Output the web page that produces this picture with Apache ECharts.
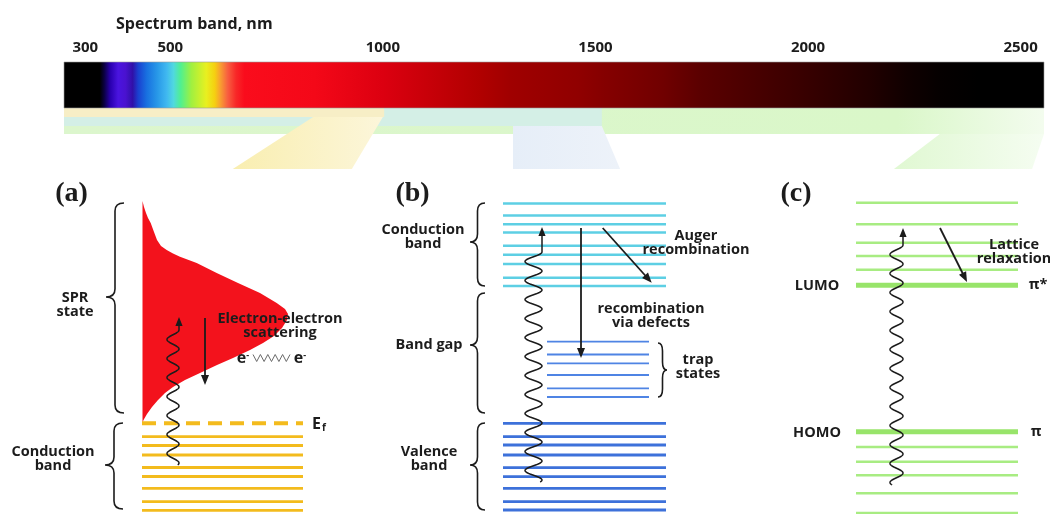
<!DOCTYPE html>
<html>
<head>
<meta charset="utf-8">
<script src="https://cdn.jsdelivr.net/npm/echarts@6/dist/echarts.min.js"></script>
<style>
  html, body { margin: 0; padding: 0; background: #fff; }
  #chart { width: 1050px; height: 514px; }
</style>
</head>
<body>
<div id="chart"></div>
<script>
// ---------- spectrum bar (wavelength axis, nm) ----------
const spectrumTicks = [300, 500, 1000, 1500, 2000, 2500];
const spectrumRange = [250, 2555];
const spectrumNm = [250, 335, 345, 360, 378, 395, 412, 425, 445, 470, 492, 508, 525, 550, 585, 605, 618, 635, 655, 675, 840, 1000, 1230, 1300, 1460, 1520, 1660, 1750, 1990, 2150, 2230, 2310, 2400, 2555];
const spectrumColors = ['#000000', '#000000', '#0a0040', '#2a00b0', '#4a14e0', '#4a12d0', '#3010a8', '#1a40d0', '#1870e0', '#2898e8', '#40b8f0', '#50d8e0', '#50f090', '#a0f040', '#e8f020', '#f5d010', '#f8a030', '#f86040', '#f82828', '#fa0c1c', '#f40818', '#dc0010', '#b00000', '#a00000', '#900000', '#850000', '#700000', '#5a0000', '#380000', '#200000', '#100000', '#050000', '#000000', '#000000'];

// absorption windows of the three systems, nm
const sprWindow = [250, 1003];
const semiconductorWindow = [250, 1515];
const organicWindow = [250, 2555];
// windows funnelled down to each scheme: [top-left, top-right, bottom-right, bottom-left] nm
const sprFunnel = [836, 1000, 927, 647];
const semiconductorFunnel = [1306, 1515, 1558, 1306];
const organicFunnel = [2310, 2555, 2527, 2202];

// ---------- (a) plasmonic metal ----------
const sprDensity = [
  [14.25, 31.3], [14.4, 30.7], [14.6, 30.1], [14.8, 29.6], [15.07, 29.1], [15.4, 28.2], [15.7, 27.4],
  [16.1, 26.8], [16.67, 26.4], [17.3, 26.05], [18.0, 25.73], [19.67, 25.1], [21.67, 24.1], [23.8, 23.1],
  [26.0, 22.1], [27.67, 21.1], [28.5, 20.5], [28.8, 20.0], [28.7, 19.4], [28.2, 18.6], [27.4, 17.8],
  [26.3, 17.1], [25.0, 16.4], [23.3, 15.6], [21.7, 14.9], [20.0, 14.1], [18.5, 13.4], [17.3, 12.7],
  [16.5, 12.1], [15.8, 11.4], [15.2, 10.7], [14.7, 10.0], [14.35, 9.4], [14.25, 9.1]
];
const fermiE = [9.07];
const metalBandE = [7.73, 6.85, 5.9, 4.65, 3.75, 2.57, 1.23, 0.37];

// ---------- (b) semiconductor ----------
const conductionBandE = [31.05, 29.85, 28.97, 28.15, 26.82, 25.93, 25.0, 23.63, 22.8];
const trapStateE = [17.23, 15.95, 15.07, 13.9, 12.57, 11.7];
const valenceBandE = [9.07, 7.73, 6.9, 5.9, 4.63, 3.73, 2.57, 1.23, 0.4];

// ---------- (c) organic molecule ----------
const excitedLevelsE = [31.13, 28.98, 27.13, 25.8, 24.43];
const lumoE = [22.88];
const homoE = [8.23];
const groundLevelsE = [6.7, 5.22, 3.88, 2.07, 0.1];

// photon absorption: [x, E start, E end of wiggle, E arrow tip, amplitude]
const photons = [
  [17.3, 4.9, 18.4, 19.7, 0.6],
  [53.35, 3.2, 26.2, 28.7, 0.85],
  [89.65, 2.9, 26.9, 28.6, 0.65]
];
// relaxation arrows: [x0, E0, x1, E1]
const relaxArrows = [
  [20.5, 19.6, 20.5, 12.9],
  [58.1, 28.6, 58.1, 15.6],
  [60.27, 28.6, 65.17, 23.13],
  [94.0, 28.6, 96.7, 23.2]
];
// braces: [x of ends, x of tip, E top, E bottom, E tip]
const braces = [
  [12.4, 10.6, 31.1, 10.1, 21.7],
  [12.3, 10.5, 9.1, 0.5, 4.9],
  [48.5, 47.0, 31.1, 22.8, 27.2],
  [48.5, 47.0, 22.1, 10.1, 16.9],
  [48.5, 47.0, 9.1, 0.4, 4.9],
  [65.8, 66.7, 17.1, 11.7, 14.4]
];
// electron-electron interaction wiggle: [x0, x1, E]
const eeLink = [[25.3, 29.0, 15.6]];

const FONT = '"Open Sans", "DejaVu Sans", sans-serif';
const SERIF = '"Liberation Serif", "DejaVu Serif", serif';
const INK = '#1c1c1c';
const WAVE_PERIOD = 19;

const labels = [
  { x: 7.15, e: 32.0, t: '(a)', serif: true },
  { x: 41.25, e: 32.0, t: '(b)', serif: true },
  { x: 79.6, e: 32.0, t: '(c)', serif: true },
  { x: 7.5, e: 20.95, t: 'SPR\nstate' },
  { x: 5.3, e: 5.5, t: 'Conduction\nband' },
  { x: 28.0, e: 18.8, t: 'Electron-electron\nscattering' },
  { x: 24.3, e: 15.6, t: '{b|e}{sup|-}' },
  { x: 30.0, e: 15.6, t: '{b|e}{sup|-}' },
  { x: 31.2, e: 8.95, t: '{b|E}{sub|f}', align: 'left' },
  { x: 42.3, e: 27.75, t: 'Conduction\nband' },
  { x: 42.9, e: 16.9, t: 'Band gap' },
  { x: 42.9, e: 5.55, t: 'Valence\nband' },
  { x: 69.6, e: 27.1, t: 'Auger\nrecombination' },
  { x: 65.1, e: 19.8, t: 'recombination\nvia defects' },
  { x: 69.8, e: 14.7, t: 'trap\nstates' },
  { x: 81.7, e: 22.8, t: 'LUMO' },
  { x: 81.7, e: 8.1, t: 'HOMO' },
  { x: 103.8, e: 22.9, t: 'π*' },
  { x: 103.6, e: 8.2, t: 'π' },
  { x: 101.4, e: 26.25, t: 'Lattice\nrelaxation' }
];

// ---------- drawing helpers ----------
function arrowHead(tip, from, len, half) {
  const dx = tip[0] - from[0], dy = tip[1] - from[1];
  const L = Math.hypot(dx, dy) || 1;
  const ux = dx / L, uy = dy / L;
  const bx = tip[0] - ux * len, by = tip[1] - uy * len;
  return {
    type: 'polygon',
    shape: { points: [tip, [bx - uy * half, by + ux * half], [bx + uy * half, by - ux * half]] },
    style: { fill: INK }
  };
}

function levelSeries(name, energies, xr, color, width, dash) {
  return {
    type: 'custom', name, xAxisIndex: 1, yAxisIndex: 1, silent: true,
    data: energies.map(e => [xr[0], xr[1], e]),
    encode: { x: [0, 1], y: 2 },
    renderItem(params, api) {
      const a = api.coord([api.value(0), api.value(2)]);
      const b = api.coord([api.value(1), api.value(2)]);
      return {
        type: 'line',
        shape: { x1: a[0], y1: a[1], x2: b[0], y2: b[1] },
        style: { stroke: color, lineWidth: width, lineDash: dash || null }
      };
    }
  };
}

function bandSeries(name, range, rows, fill) {
  return {
    type: 'custom', name, xAxisIndex: 0, yAxisIndex: 0, silent: true,
    data: [[range[0], range[1]]],
    renderItem(params, api) {
      const a = api.coord([api.value(0), rows[0]]);
      const b = api.coord([api.value(1), rows[1]]);
      return { type: 'rect', shape: { x: a[0], y: a[1], width: b[0] - a[0], height: b[1] - a[1] }, style: { fill } };
    }
  };
}

function funnelSeries(name, f, topRow, botRow, colors) {
  return {
    type: 'custom', name, xAxisIndex: 0, yAxisIndex: 0, silent: true,
    data: [f],
    renderItem(params, api) {
      const pts = [
        api.coord([api.value(0), topRow]),
        api.coord([api.value(1), topRow]),
        api.coord([api.value(2), botRow]),
        api.coord([api.value(3), botRow])
      ];
      return {
        type: 'polygon', shape: { points: pts },
        style: { fill: new echarts.graphic.LinearGradient(0, 0, 1, 0, [{ offset: 0, color: colors[0] }, { offset: 1, color: colors[1] }]) }
      };
    }
  };
}

const BAR_ROWS = [0, 4.6];

const option = {
  animation: false,
  backgroundColor: '#ffffff',
  title: {
    text: 'Spectrum band, nm', left: 111, top: 11,
    textStyle: { fontFamily: FONT, fontWeight: 'bold', fontSize: 16, color: INK }
  },
  grid: [
    { left: 64, top: 62, width: 980, height: 107 },
    { left: 0, top: 180, width: 1050, height: 334 }
  ],
  xAxis: [
    {
      gridIndex: 0, type: 'value', min: spectrumRange[0], max: spectrumRange[1], position: 'top',
      axisLine: { show: false }, axisTick: { show: false }, splitLine: { show: false },
      axisLabel: {
        customValues: spectrumTicks, margin: 7, formatter: v => String(v),
        fontFamily: FONT, fontWeight: 'bold', fontSize: 15, color: INK
      }
    },
    { gridIndex: 1, type: 'value', min: 0, max: 105, show: false }
  ],
  yAxis: [
    { gridIndex: 0, type: 'value', min: 0, max: 10.7, inverse: true, show: false },
    { gridIndex: 1, type: 'value', min: 0, max: 33.4, show: false }
  ],
  series: [
    // absorption bands under the spectrum
    bandSeries('organic window', organicWindow, [4.6, 7.2],
      new echarts.graphic.LinearGradient(0, 0, 1, 0, [
        { offset: 0, color: '#dcf6cd' }, { offset: 0.85, color: '#daf7c9' }, { offset: 1, color: '#f3fcee' }])),
    bandSeries('semiconductor window', semiconductorWindow, [4.6, 6.4], '#d4efe6'),
    bandSeries('SPR window', sprWindow, [4.6, 5.5], '#f7eec6'),
    funnelSeries('SPR funnel', sprFunnel, 5.5, 10.7, ['#f9eeb0', '#fcf6da']),
    funnelSeries('semiconductor funnel', semiconductorFunnel, 6.4, 10.7, ['#e6eef8', '#edf2f9']),
    funnelSeries('organic funnel', organicFunnel, 7.2, 10.7, ['#e0f8d2', '#f5fdf1']),
    // spectrum colour bar
    {
      type: 'custom', name: 'spectrum', xAxisIndex: 0, yAxisIndex: 0, silent: true,
      data: [spectrumRange],
      renderItem(params, api) {
        const a = api.coord([api.value(0), BAR_ROWS[0]]);
        const b = api.coord([api.value(1), BAR_ROWS[1]]);
        const w = b[0] - a[0];
        const stops = spectrumNm.map((nm, i) => ({
          offset: (api.coord([nm, 0])[0] - a[0]) / w,
          color: spectrumColors[i]
        }));
        return {
          type: 'rect', shape: { x: a[0], y: a[1], width: w, height: b[1] - a[1] },
          style: { fill: new echarts.graphic.LinearGradient(0, 0, 1, 0, stops), stroke: '#9a9a9a', lineWidth: 0.6 }
        };
      }
    },
    // SPR density of states
    {
      type: 'custom', name: 'SPR state', xAxisIndex: 1, yAxisIndex: 1, silent: true,
      data: [0],
      renderItem(params, api) {
        return {
          type: 'polygon',
          shape: { points: sprDensity.map(p => api.coord(p)) },
          style: { fill: '#f3121c' }
        };
      }
    },
    levelSeries('Fermi level', fermiE, [14.2, 30.3], '#f3bb1d', 4, [14, 8]),
    levelSeries('metal band', metalBandE, [14.2, 30.3], '#f3bb1d', 2.8),
    levelSeries('conduction band', conductionBandE, [50.3, 66.6], '#5dcfe4', 2.6),
    levelSeries('trap states', trapStateE, [54.7, 64.9], '#4f84e4', 1.8),
    levelSeries('valence band', valenceBandE, [50.3, 66.6], '#3d71da', 2.8),
    levelSeries('excited levels', excitedLevelsE, [85.6, 101.8], '#a8ec82', 2.4),
    levelSeries('LUMO', lumoE, [85.6, 101.8], '#98e46a', 5),
    levelSeries('HOMO', homoE, [85.6, 101.8], '#98e46a', 5),
    levelSeries('ground levels', groundLevelsE, [85.6, 101.8], '#a8ec82', 2.4),
    // photon excitation
    {
      type: 'custom', name: 'photon', xAxisIndex: 1, yAxisIndex: 1, silent: true,
      data: photons,
      renderItem(params, api) {
        const xc = api.value(0), amp = api.value(4);
        const bot = api.coord([xc, api.value(1)]);
        const top = api.coord([xc, api.value(2)]);
        const tip = api.coord([xc + amp, api.value(3)]);
        const ampPx = api.size([amp, 0])[0];
        const pts = [];
        for (let y = bot[1]; y > top[1]; y -= 0.5) {
          pts.push([top[0] + ampPx * Math.cos(2 * Math.PI * (y - top[1]) / WAVE_PERIOD), y]);
        }
        pts.push([top[0] + ampPx, top[1]]);
        pts.push([tip[0], tip[1] + 6]);
        return {
          type: 'group',
          children: [
            { type: 'polyline', shape: { points: pts }, style: { stroke: INK, lineWidth: 1.5, fill: null } },
            arrowHead(tip, [tip[0], tip[1] + 10], 9, 3.6)
          ]
        };
      }
    },
    // relaxation arrows
    {
      type: 'custom', name: 'relaxation', xAxisIndex: 1, yAxisIndex: 1, silent: true,
      data: relaxArrows,
      renderItem(params, api) {
        const a = api.coord([api.value(0), api.value(1)]);
        const b = api.coord([api.value(2), api.value(3)]);
        const L = Math.hypot(b[0] - a[0], b[1] - a[1]);
        const e = [b[0] - (b[0] - a[0]) / L * 7, b[1] - (b[1] - a[1]) / L * 7];
        return {
          type: 'group',
          children: [
            { type: 'line', shape: { x1: a[0], y1: a[1], x2: e[0], y2: e[1] }, style: { stroke: INK, lineWidth: 1.8 } },
            arrowHead(b, a, 10, 4)
          ]
        };
      }
    },
    // curly braces
    {
      type: 'custom', name: 'braces', xAxisIndex: 1, yAxisIndex: 1, silent: true,
      data: braces,
      renderItem(params, api) {
        const xe = api.coord([api.value(0), 0])[0];
        const xt = api.coord([api.value(1), 0])[0];
        const yt = api.coord([0, api.value(2)])[1];
        const yb = api.coord([0, api.value(3)])[1];
        const ym = api.coord([0, api.value(4)])[1];
        const xs = (xe + xt) / 2;
        const r = Math.min(8, (yb - yt) / 5);
        const d = `M${xe} ${yt}Q${xs} ${yt} ${xs} ${yt + r}L${xs} ${ym - r}Q${xs} ${ym} ${xt} ${ym}` +
                  `Q${xs} ${ym} ${xs} ${ym + r}L${xs} ${yb - r}Q${xs} ${yb} ${xe} ${yb}`;
        return { type: 'path', shape: { pathData: d }, style: { stroke: INK, lineWidth: 1.6, fill: null } };
      }
    },
    // e- ~~~ e- interaction
    {
      type: 'custom', name: 'e-e link', xAxisIndex: 1, yAxisIndex: 1, silent: true,
      data: eeLink,
      renderItem(params, api) {
        const a = api.coord([api.value(0), api.value(2)]);
        const b = api.coord([api.value(1), api.value(2)]);
        const n = 10, pts = [];
        for (let i = 0; i <= n; i++) {
          pts.push([a[0] + (b[0] - a[0]) * i / n, a[1] + (i % 2 ? 3.5 : -3.5)]);
        }
        return { type: 'polyline', shape: { points: pts }, style: { stroke: '#6a6a6a', lineWidth: 1, fill: null } };
      }
    },
    // text annotations
    {
      type: 'custom', name: 'labels', xAxisIndex: 1, yAxisIndex: 1, silent: true,
      data: labels.map(l => [l.x, l.e]),
      renderItem(params, api) {
        const l = labels[params.dataIndex];
        const p = api.coord([api.value(0), api.value(1)]);
        const align = l.align || 'center';
        return {
          type: 'text', x: p[0], y: p[1],
          style: {
            text: l.t,
            align, textAlign: align, verticalAlign: 'middle', textVerticalAlign: 'middle',
            fontFamily: l.serif ? SERIF : FONT,
            fontWeight: 'bold',
            fontSize: l.serif ? 28 : 14.5,
            lineHeight: 14,
            fill: INK,
            rich: {
              b: { fontFamily: FONT, fontWeight: 'bold', fontSize: 16, fill: INK, color: INK },
              sup: { fontFamily: FONT, fontWeight: 'bold', fontSize: 9, fill: INK, color: INK, verticalAlign: 'top', padding: [0, 0, 8, 0] },
              sub: { fontFamily: FONT, fontWeight: 'bold', fontSize: 10, fill: INK, color: INK, padding: [8, 0, 0, 1] }
            }
          }
        };
      }
    }
  ]
};

const chart = echarts.init(document.getElementById('chart'));
chart.setOption(option);
</script>
</body>
</html>
